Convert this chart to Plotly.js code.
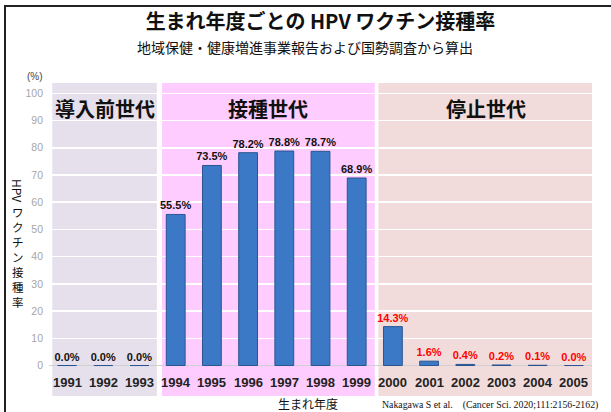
<!DOCTYPE html>
<html>
<head>
<meta charset="utf-8">
<script src="https://cdn.plot.ly/plotly-3.0.1.min.js"></script>
<style>html,body{margin:0;padding:0;background:#fff;}#chart{width:611px;height:412px;}</style>
</head>
<body>
<div id="chart"></div>
<script>
// ---- data ----
var years = ['1991','1992','1993','1994','1995','1996','1997','1998','1999','2000','2001','2002','2003','2004','2005'];
var rates = [0.0, 0.0, 0.0, 55.5, 73.5, 78.2, 78.8, 78.7, 68.9, 14.3, 1.6, 0.4, 0.2, 0.1, 0.0];
var rateLabels = ['0.0%','0.0%','0.0%','55.5%','73.5%','78.2%','78.8%','78.7%','68.9%','14.3%','1.6%','0.4%','0.2%','0.1%','0.0%'];
var labelColors = ['#111','#111','#111','#111','#111','#111','#111','#111','#111','#ff0000','#ff0000','#ff0000','#ff0000','#ff0000','#ff0000'];
var regionNames = ['導入前世代','接種世代','停止世代'];
var regionStart = [-0.41, 2.62, 8.6];
var regionEnd = [2.48, 8.5, 14.52];
var regionColors = ['#e6e0ec','#ffccff','#f2dcdb'];
var yTicks = [0,10,20,30,40,50,60,70,80,90,100];

var JP = '"Noto Sans CJK JP", "Noto Sans", sans-serif';
var AR = '"Liberation Sans", Arial, sans-serif';

var trace = {
  type: 'bar',
  x: years,
  y: rates,
  width: 0.52,
  marker: {color: '#3b79c6', line: {color: '#2a5592', width: 1}},
  text: rateLabels,
  textposition: 'outside',
  constraintext: 'none',
  cliponaxis: false,
  textfont: {family: AR, size: 11, color: labelColors, weight: 'bold'},
  hoverinfo: 'skip'
};

var shapes = [];
var annotations = [];
for (var i = 0; i < regionNames.length; i++) {
  shapes.push({type: 'rect', layer: 'below', xref: 'x', yref: 'paper',
    x0: regionStart[i], x1: regionEnd[i], y0: 0, y1: 1,
    fillcolor: regionColors[i], line: {width: 0}});
  annotations.push({xref: 'x', yref: 'paper', x: (regionStart[i] + regionEnd[i]) / 2, y: (396 - 109) / 313,
    text: regionNames[i], showarrow: false, xanchor: 'center', yanchor: 'middle',
    font: {family: JP, size: 20, color: '#111', weight: 'bold'}});
}
// frame lines
shapes.push({type: 'line', xref: 'paper', yref: 'paper', x0: (4 - 49) / 543, x1: (612 - 49) / 543,
  y0: (396 - 6) / 313, y1: (396 - 6) / 313, line: {color: '#222', width: 2}});
shapes.push({type: 'line', xref: 'paper', yref: 'paper', x0: (5 - 49) / 543, x1: (5 - 49) / 543,
  y0: (396 - 6) / 313, y1: (396 - 414) / 313, line: {color: '#222', width: 2}});

// year labels inside the shaded area (x given as category index)
for (var j = 0; j < years.length; j++) {
  annotations.push({xref: 'x', yref: 'y', x: j, y: -6.4, text: years[j], showarrow: false,
    xanchor: 'center', yanchor: 'middle', font: {family: AR, size: 13, color: '#222', weight: 'bold'}});
}

// subtitle
annotations.push({xref: 'paper', yref: 'paper', x: (305 - 49) / 543, y: (396 - 47) / 313,
  text: '地域保健・健康増進事業報告および国勢調査から算出', showarrow: false, xanchor: 'center', yanchor: 'middle',
  font: {family: JP, size: 14, color: '#111'}});
// (%)
annotations.push({xref: 'paper', yref: 'paper', x: (35 - 49) / 543, y: (396 - 77) / 313,
  text: '(%)', showarrow: false, xanchor: 'center', yanchor: 'middle',
  font: {family: AR, size: 10, color: '#444'}});
// vertical y-axis title
annotations.push({xref: 'paper', yref: 'paper', x: (18 - 49) / 543, y: (396 - 190) / 313,
  text: 'HPV', showarrow: false, textangle: 90, xanchor: 'center', yanchor: 'middle',
  font: {family: JP, size: 12, color: '#111'}});
annotations.push({xref: 'paper', yref: 'paper', x: (18 - 49) / 543, y: (396 - 202) / 313,
  text: 'ワクチン接種率'.split('').join('<br>'), showarrow: false, xanchor: 'center', yanchor: 'top',
  font: {family: JP, size: 11.5, color: '#111'}});
// x title and citation
annotations.push({xref: 'paper', yref: 'paper', x: (308 - 49) / 543, y: (396 - 404) / 313,
  text: '生まれ年度', showarrow: false, xanchor: 'center', yanchor: 'middle',
  font: {family: JP, size: 12, color: '#111'}});
annotations.push({xref: 'paper', yref: 'paper', x: (380 - 49) / 543, y: (396 - 405) / 313,
  text: 'Nakagawa S et al.　(Cancer Sci. 2020;111:2156-2162)', showarrow: false, xanchor: 'left', yanchor: 'middle',
  font: {family: '"Liberation Serif", "Times New Roman", serif', size: 9.8, color: '#111'}});

var layout = {
  width: 611, height: 412,
  margin: {l: 49, r: 19, t: 83, b: 16, pad: 0},
  paper_bgcolor: '#ffffff', plot_bgcolor: 'rgba(0,0,0,0)',
  showlegend: false,
  title: {text: '生まれ年度ごとの HPV ワクチン接種率', x: 0.5, xanchor: 'center', xref: 'paper',
    y: 1 - 22 / 412, yanchor: 'middle', yref: 'container',
    font: {family: JP, size: 20, color: '#111', weight: 'bold'}},
  xaxis: {type: 'category', range: [-0.5, 14.5], showgrid: false, zeroline: false,
    showticklabels: false, ticks: '', showline: false, fixedrange: true},
  yaxis: {range: [-11.2, 103.8], tickvals: yTicks, ticktext: yTicks.map(String),
    showgrid: true, gridcolor: '#ffffff', gridwidth: 1.5,
    zeroline: true, zerolinecolor: '#d0d0d0', zerolinewidth: 1,
    showline: false, ticks: '', ticklabelstandoff: 5,
    tickfont: {family: AR, size: 10.5, color: '#a6a6a6'}, fixedrange: true},
  shapes: shapes,
  annotations: annotations
};

Plotly.newPlot('chart', [trace], layout, {displayModeBar: false, staticPlot: true});
</script>
</body>
</html>
